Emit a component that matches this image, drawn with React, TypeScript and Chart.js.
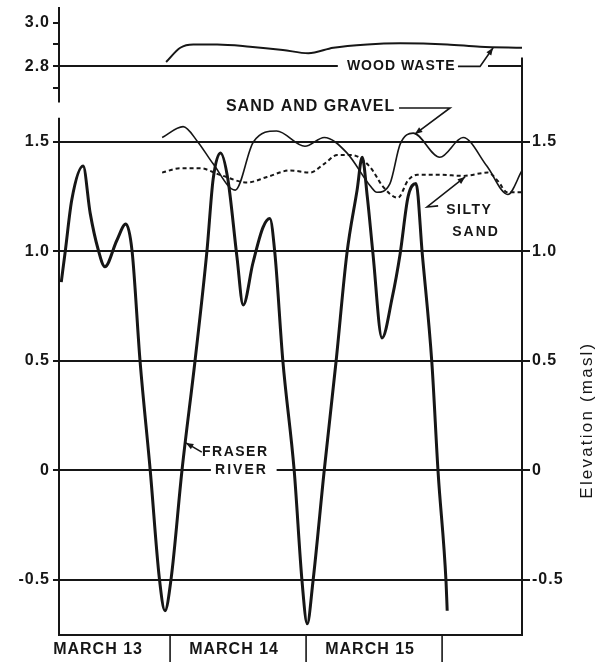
import React, { useEffect, useRef } from 'react';
import { Chart, registerables } from 'chart.js';

Chart.register(...registerables);

const FONT = '"Liberation Sans", Arial, Helvetica, sans-serif';
const INK = '#161616';

// ---- x axis: hours since 00:00 on March 13 ----
const dayLabels = ['MARCH 13', 'MARCH 14', 'MARCH 15'];
const dayLabelHours = [12, 36, 60];
const dayBoundaryHours = [24, 48, 72];
const hourMin = 4.4;
const hourMax = 86.1;

// ---- y axis: elevation (masl), broken between 1.6 and 2.6 ----
const breakShift = 0.955; // upper part of the axis is drawn shifted down by this
const axisMin = -0.751;
const axisMax = 2.116;
const lowerTicks = [-0.5, 0, 0.5, 1.0, 1.5];
const lowerTickLabels = ['-0.5', '0', '0.5', '1.0', '1.5'];
const upperTicks = [2.7, 2.8, 2.9, 3.0];
const upperTickLabels = ['', '2.8', '', '3.0'];
const upperGridTicks = [2.8];
const rightTickLabels = ['-0.5', '0', '0.5', '1.0', '1.5'];
const lowerAxisTop = 1.61;
const upperAxisBottom = 2.635;
const rightAxisTop = 2.84;

// ---- series ----
const fraserHours = [4.8, 5.5, 6.65, 8.65, 9.9, 11.3, 12.5, 14.6, 16.2, 17.3, 18.7, 20.5, 22.1, 23.1, 24.2, 26.1, 28.4, 30.5, 31.6, 32.9, 34.2, 35.8, 36.9, 38.6, 40.4, 41.6, 42.5, 43.9, 45.9, 47.3, 48.2, 49.2, 51.2, 53.3, 55.2, 57.0, 57.9, 58.8, 59.8, 61.4, 63.2, 64.6, 66.0, 67.4, 68.5, 70.2, 71.3, 72.7, 72.9];
const fraserElev = [0.86, 1.0, 1.235, 1.39, 1.175, 1.01, 0.93, 1.05, 1.125, 1.0, 0.5, 0.0, -0.49, -0.64, -0.49, 0.0, 0.5, 1.0, 1.33, 1.45, 1.33, 0.975, 0.755, 0.945, 1.11, 1.15, 0.99, 0.5, 0.0, -0.51, -0.70, -0.51, 0.0, 0.5, 0.99, 1.28, 1.43, 1.25, 0.99, 0.605, 0.79, 0.99, 1.25, 1.31, 0.99, 0.49, -0.01, -0.51, -0.64];

const sandGravelHours = [22.6, 26.3, 28.9, 31.6, 35.5, 38.7, 42.8, 47.8, 51.2, 55.2, 59.3, 60.5, 62.8, 64.6, 66.9, 71.6, 75.7, 79.9, 83.6, 86.1];
const sandGravelElev = [1.52, 1.57, 1.50, 1.40, 1.28, 1.50, 1.55, 1.48, 1.52, 1.45, 1.30, 1.27, 1.31, 1.49, 1.54, 1.43, 1.52, 1.39, 1.26, 1.37];

const siltySandHours = [22.6, 25.8, 29.3, 32.8, 37.6, 41.1, 45.2, 48.7, 51.2, 53.5, 56.1, 59.3, 61.6, 64.2, 66.0, 67.6, 71.6, 75.7, 80.1, 81.9, 83.5, 86.1];
const siltySandElev = [1.36, 1.38, 1.38, 1.35, 1.315, 1.34, 1.37, 1.36, 1.40, 1.44, 1.44, 1.385, 1.295, 1.245, 1.325, 1.35, 1.35, 1.345, 1.36, 1.32, 1.27, 1.27];

const woodWasteHours = [23.3, 25.8, 28.1, 32.3, 38.1, 43.9, 48.4, 52.8, 58.8, 64.6, 72.9, 78.7, 86.1];
const woodWasteElev = [2.82, 2.885, 2.90, 2.90, 2.89, 2.875, 2.86, 2.885, 2.90, 2.905, 2.90, 2.89, 2.885];

// ---- annotations (data units: hour, elevation) ----
const woodWasteNote = { text: 'WOOD WASTE', hour: 64.8, elev: 2.8, gapFrom: 53.6, gapTo: 80.1 };
const woodWasteLeader = [[74.8, 2.8], [78.7, 2.8], [81.0, 2.885]];
const sandGravelNote = { text: 'SAND AND GRAVEL', hour: 48.8, elev: 1.66 };
const sandGravelLeader = [[64.4, 1.655], [73.4, 1.655], [67.2, 1.536]];
const siltyNote = { text: 'SILTY', hour: 76.8, elev: 1.19 };
const sandNote = { text: 'SAND', hour: 78.0, elev: 1.09 };
const siltySandLeader = [[71.3, 1.208], [69.35, 1.203], [76.06, 1.34]];
const fraserNote = { text: 'FRASER', hour: 35.5, elev: 0.084 };
const riverNote = { text: 'RIVER', hour: 36.6, elev: 0, gapFrom: 31.2, gapTo: 42.8 };
const fraserLeader = [[29.6, 0.084], [26.8, 0.126]];
const axisTitle = { text: 'Elevation (masl)', elev: 0.23 };

const toAxis = (v: number) => (v > 2.2 ? v - breakShift : v);
const series = (hs: number[], vs: number[]) => hs.map((h, i) => ({ x: h, y: toAxis(vs[i]) }));

const leftTickValues = [...lowerTicks, ...upperTicks.map(toAxis)];
const leftTickLabels = [...lowerTickLabels, ...upperTickLabels];
const leftGridOn = [...lowerTicks.map(() => true), ...upperTicks.map((v) => upperGridTicks.includes(v))];

function drawArrowHead(ctx: any, fx: number, fy: number, tx: number, ty: number, size: number) {
  const a = Math.atan2(ty - fy, tx - fx);
  ctx.beginPath();
  ctx.moveTo(tx, ty);
  ctx.lineTo(tx - size * Math.cos(a - 0.38), ty - size * Math.sin(a - 0.38));
  ctx.lineTo(tx - size * Math.cos(a + 0.38), ty - size * Math.sin(a + 0.38));
  ctx.closePath();
  ctx.fill();
}

const overlayPlugin = {
  id: 'overlay',
  beforeDraw(chart: any) {
    chart.ctx.letterSpacing = '1px';
  },
  beforeDatasetsDraw(chart: any) {
    const ctx = chart.ctx;
    ctx.letterSpacing = '0px';
    const ca = chart.chartArea;
    const X = chart.scales.x;
    const Y = chart.scales.y;
    const line = (x1: number, y1: number, x2: number, y2: number) => {
      ctx.beginPath();
      ctx.moveTo(x1, y1);
      ctx.lineTo(x2, y2);
      ctx.stroke();
    };
    ctx.save();
    // white gaps in the gridlines where labels sit
    ctx.fillStyle = '#ffffff';
    const g1 = Y.getPixelForValue(toAxis(woodWasteNote.elev));
    ctx.fillRect(X.getPixelForValue(woodWasteNote.gapFrom), g1 - 4, X.getPixelForValue(woodWasteNote.gapTo) - X.getPixelForValue(woodWasteNote.gapFrom), 8);
    const g2 = Y.getPixelForValue(riverNote.elev);
    ctx.fillRect(X.getPixelForValue(riverNote.gapFrom), g2 - 4, X.getPixelForValue(riverNote.gapTo) - X.getPixelForValue(riverNote.gapFrom), 8);

    ctx.strokeStyle = INK;
    ctx.lineWidth = 2;
    // broken left axis
    line(ca.left, ca.top, ca.left, Y.getPixelForValue(toAxis(upperAxisBottom)));
    line(ca.left, Y.getPixelForValue(lowerAxisTop), ca.left, ca.bottom + 1);
    // right axis
    line(ca.right, Y.getPixelForValue(toAxis(rightAxisTop)), ca.right, ca.bottom + 1);
    // day separators below the time axis
    ctx.lineWidth = 1.6;
    dayBoundaryHours.forEach((h) => {
      const px = X.getPixelForValue(h);
      line(px, ca.bottom, px, chart.height);
    });
    ctx.restore();
  },
  afterDraw(chart: any) {
    const ctx = chart.ctx;
    const ca = chart.chartArea;
    const X = chart.scales.x;
    const Y = chart.scales.y;
    const P = (h: number, v: number) => [X.getPixelForValue(h), Y.getPixelForValue(toAxis(v))];
    ctx.save();
    ctx.fillStyle = INK;
    ctx.strokeStyle = INK;
    ctx.textAlign = 'center';
    ctx.textBaseline = 'middle';

    const text = (n: any, size: number, spacing: string) => {
      ctx.font = `bold ${size}px ${FONT}`;
      ctx.letterSpacing = spacing;
      const [x, y] = P(n.hour, n.elev);
      ctx.fillText(n.text, x, y);
    };
    text(woodWasteNote, 14, '1px');
    text(sandGravelNote, 16, '1px');
    text(siltyNote, 14, '1.5px');
    text(sandNote, 14, '2px');
    text(fraserNote, 14, '1.5px');
    text(riverNote, 14, '2px');

    const leader = (pts: number[][]) => {
      ctx.lineWidth = 1.6;
      const px = pts.map((p) => P(p[0], p[1]));
      ctx.beginPath();
      ctx.moveTo(px[0][0], px[0][1]);
      for (let i = 1; i < px.length; i++) ctx.lineTo(px[i][0], px[i][1]);
      ctx.stroke();
      const a = px[px.length - 2];
      const b = px[px.length - 1];
      drawArrowHead(ctx, a[0], a[1], b[0], b[1], 8);
    };
    leader(woodWasteLeader);
    leader(sandGravelLeader);
    leader(siltySandLeader);
    leader(fraserLeader);

    // right-hand axis title, reading bottom to top
    ctx.font = `17px ${FONT}`;
    ctx.letterSpacing = '2.2px';
    ctx.translate(ca.right + 65, Y.getPixelForValue(axisTitle.elev));
    ctx.rotate(-Math.PI / 2);
    ctx.fillText(axisTitle.text, 0, 0);
    ctx.restore();
    ctx.letterSpacing = '0px';
  },
};

export default function App() {
  const ref = useRef<HTMLCanvasElement | null>(null);

  useEffect(() => {
    if (!ref.current) return;
    const tickFont = { family: FONT, size: 16, weight: 'bold' as const };
    const chart = new Chart(ref.current, {
      type: 'line',
      data: {
        datasets: [
          { label: 'Fraser River', data: series(fraserHours, fraserElev), borderColor: INK, borderWidth: 3, pointRadius: 0, cubicInterpolationMode: 'monotone', fill: false, yAxisID: 'y' },
          { label: 'Sand and gravel', data: series(sandGravelHours, sandGravelElev), borderColor: INK, borderWidth: 1.6, pointRadius: 0, cubicInterpolationMode: 'monotone', fill: false, yAxisID: 'y' },
          { label: 'Silty sand', data: series(siltySandHours, siltySandElev), borderColor: INK, borderWidth: 2, borderDash: [4, 3], pointRadius: 0, cubicInterpolationMode: 'monotone', fill: false, yAxisID: 'y' },
          { label: 'Wood waste', data: series(woodWasteHours, woodWasteElev), borderColor: INK, borderWidth: 2, pointRadius: 0, cubicInterpolationMode: 'monotone', fill: false, yAxisID: 'y' },
        ],
      },
      options: {
        animation: false,
        responsive: false,
        devicePixelRatio: 1,
        layout: { padding: { top: 7, left: 0, right: 0, bottom: 0 } },
        plugins: { legend: { display: false }, tooltip: { enabled: false } },
        scales: {
          x: {
            type: 'linear',
            position: 'bottom',
            min: hourMin,
            max: hourMax,
            grid: { display: false, drawTicks: false },
            border: { display: true, color: INK, width: 2 },
            ticks: {
              autoSkip: false,
              maxRotation: 0,
              color: INK,
              font: tickFont,
              padding: 5,
              labelOffset: -4,
              callback: (_v: any, i: number) => dayLabels[i] ?? '',
            },
            afterBuildTicks: (s: any) => {
              s.ticks = dayLabelHours.map((h) => ({ value: h }));
            },
            afterFit: (s: any) => {
              s.height = 27;
              s.paddingLeft = 0;
              s.paddingRight = 0;
            },
          },
          y: {
            type: 'linear',
            position: 'left',
            min: axisMin,
            max: axisMax,
            border: { display: false },
            grid: {
              color: (c: any) => (leftGridOn[c.index] ? INK : 'rgba(0,0,0,0)'),
              tickColor: INK,
              lineWidth: 2,
              tickLength: 6,
            },
            ticks: {
              autoSkip: false,
              color: INK,
              font: tickFont,
              padding: 3,
              callback: (_v: any, i: number) => leftTickLabels[i] ?? '',
            },
            afterBuildTicks: (s: any) => {
              s.ticks = leftTickValues.map((v) => ({ value: v }));
            },
            afterFit: (s: any) => {
              s.width = 59;
              s.paddingTop = 0;
              s.paddingBottom = 0;
            },
          },
          yR: {
            type: 'linear',
            position: 'right',
            min: axisMin,
            max: axisMax,
            border: { display: false },
            grid: { drawOnChartArea: false, color: INK, tickColor: INK, lineWidth: 2, tickLength: 8 },
            ticks: {
              autoSkip: false,
              color: INK,
              font: tickFont,
              padding: 2,
              callback: (_v: any, i: number) => rightTickLabels[i] ?? '',
            },
            afterBuildTicks: (s: any) => {
              s.ticks = lowerTicks.map((v) => ({ value: v }));
            },
            afterFit: (s: any) => {
              s.width = 85;
              s.paddingTop = 0;
              s.paddingBottom = 0;
            },
          },
        },
      } as any,
      plugins: [overlayPlugin as any],
    });
    return () => chart.destroy();
  }, []);

  return (
    <div style={{ position: 'fixed', left: 0, top: 0, width: 607, height: 662, background: '#ffffff' }}>
      <canvas ref={ref} width={607} height={662} style={{ display: 'block', width: 607, height: 662 }} />
    </div>
  );
}
